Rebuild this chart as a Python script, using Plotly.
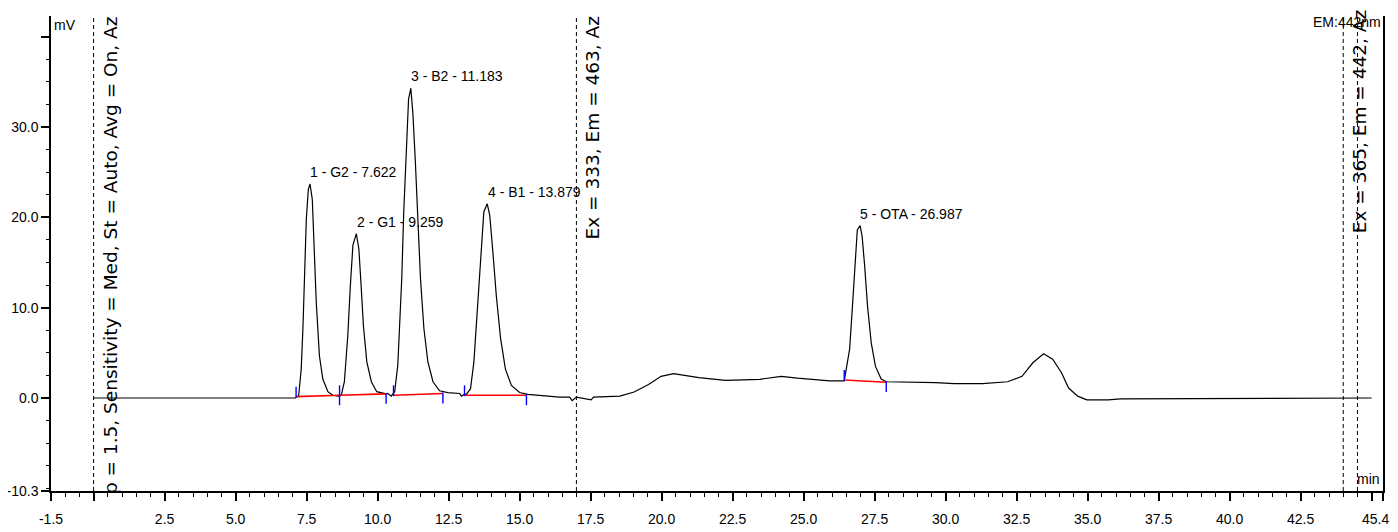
import plotly.graph_objects as go

# ---- chromatogram signal (min, mV) ----
time_min = [0.00, 7.10, 7.22, 7.31, 7.37, 7.43, 7.49, 7.56, 7.62, 7.70, 7.75, 7.84, 7.95, 8.07, 8.25, 8.42, 8.63,
            8.72, 8.83, 8.95, 9.04, 9.13, 9.25, 9.34, 9.42, 9.50, 9.62, 9.78, 9.97, 10.30,
            10.36, 10.48, 10.60, 10.71, 10.77, 10.85, 10.92, 11.01, 11.09, 11.17, 11.24, 11.33, 11.42, 11.51,
            11.63, 11.77, 11.95, 12.18, 12.47, 12.89, 12.95, 13.05,
            13.12, 13.27, 13.39, 13.51, 13.63, 13.74, 13.86, 13.95, 14.06, 14.18, 14.33, 14.50, 14.71, 15.00,
            15.29, 16.00, 16.40, 16.76, 16.85, 17.00, 17.52, 17.60, 18.53, 19.03, 19.54, 19.98, 20.42, 21.31,
            22.25, 23.46, 24.21, 24.78, 25.92, 26.43, 26.62, 26.72, 26.81, 26.89, 26.99, 27.06, 27.15, 27.25,
            27.38, 27.53, 27.73, 27.91, 29.65, 30.30, 31.30, 32.18, 32.69, 33.07, 33.45, 33.77, 34.08, 34.33,
            34.65, 34.97, 35.72, 36.16, 45.00]
signal_mv = [0.00, 0.00, 0.25, 3.2, 7.7, 14.3, 19.8, 23.1, 23.7, 22.0, 18.0, 10.6, 4.7, 2.1, 0.7, 0.3, 0.2,
             0.3, 1.8, 6.9, 12.4, 16.9, 18.2, 16.5, 12.4, 8.0, 4.0, 1.8, 0.7, 0.45,
             0.5, 0.2, 0.7, 3.6, 7.7, 13.2, 20.6, 27.9, 33.1, 34.3, 31.6, 26.1, 18.7, 13.2,
             7.7, 4.0, 1.8, 0.8, 0.6, 0.5, 0.2, 0.4,
             0.4, 1.0, 4.0, 9.5, 16.1, 20.6, 21.5, 20.2, 16.1, 11.3, 6.6, 3.2, 1.4, 0.6,
             0.4, 0.2, 0.1, 0.1, -0.3, 0.1, -0.2, 0.1, 0.2, 0.66, 1.5, 2.4, 2.7, 2.25,
             1.95, 2.07, 2.4, 2.2, 1.9, 1.9, 5.4, 10.2, 15.3, 18.6, 19.1, 17.9, 14.6, 10.2,
             6.1, 3.5, 2.1, 1.8, 1.7, 1.6, 1.6, 1.8, 2.4, 3.9, 4.9, 4.3, 2.8, 1.1,
             0.2, -0.2, -0.2, -0.1, 0.0]

# ---- peak table ----
peak_no = [1, 2, 3, 4, 5]
peak_name = ["G2", "G1", "B2", "B1", "OTA"]
peak_rt = [7.622, 9.259, 11.183, 13.879, 26.987]
peak_height = [23.7, 18.2, 34.3, 21.5, 19.1]
peak_start_t = [7.13, 8.66, 10.56, 13.06, 26.43]
peak_start_v = [0.15, 0.30, 0.30, 0.30, 2.00]
peak_end_t = [8.66, 10.30, 12.30, 15.24, 27.91]
peak_end_v = [0.30, 0.45, 0.50, 0.30, 1.75]

# ---- event lines and their texts ----
event_times = [0.0, 17.0, 44.0, 44.5]
event_texts = ["p = 1.5, Sensitivity = Med, St = Auto, Avg = On, Az",
               "Ex = 333, Em = 463, Az",
               "Ex = 365, Em = 442, Az"]

# ---- axes ----
x_range = [-1.5, 45.4]
y_range = [-10.3, 42.3]
x_tickvals = [-1.5, 0.0, 2.5, 5.0, 7.5, 10.0, 12.5, 15.0, 17.5, 20.0, 22.5, 25.0, 27.5, 30.0, 32.5, 35.0,
              37.5, 40.0, 42.5, 45.0, 45.4]
x_ticktext = ["-1.5", "", "2.5", "5.0", "7.5", "10.0", "12.5", "15.0", "17.5", "20.0", "22.5", "25.0", "27.5",
              "30.0", "32.5", "35.0", "37.5", "40.0", "42.5", "", ""]
x_end_label = "45.4"
y_tickvals = [-10.3, 0.0, 10.0, 20.0, 30.0, 40.0]
y_ticktext = ["-10.3", "0.0", "10.0", "20.0", "30.0", ""]

fig = go.Figure()

# signal
fig.add_trace(go.Scatter(x=time_min, y=signal_mv, mode="lines",
                         line=dict(color="black", width=1.2), hoverinfo="skip", showlegend=False))

# integration baselines (red)
bx, by = [], []
for s, sv, e, ev in zip(peak_start_t, peak_start_v, peak_end_t, peak_end_v):
    bx += [s, e, None]
    by += [sv, ev, None]
fig.add_trace(go.Scatter(x=bx, y=by, mode="lines", line=dict(color="#ff0000", width=1.6),
                         hoverinfo="skip", showlegend=False))

# peak delimiters (blue): start marks up, end marks down
mark = 1.1
mx, my = [], []
for s, sv in zip(peak_start_t, peak_start_v):
    mx += [s, s, None]
    my += [sv - 0.1, sv + mark, None]
for e, ev in zip(peak_end_t, peak_end_v):
    mx += [e, e, None]
    my += [ev + 0.1, ev - mark, None]
fig.add_trace(go.Scatter(x=mx, y=my, mode="lines", line=dict(color="#0000ff", width=1.4),
                         hoverinfo="skip", showlegend=False))

# dashed event lines
for t in event_times:
    fig.add_shape(type="line", xref="x", yref="paper", x0=t, x1=t, y0=0, y1=1,
                  line=dict(color="black", width=1, dash="4px,3px"))

lab_font = dict(family="Liberation Sans, Arial", size=14, color="black")
vert_font = dict(family="DejaVu Sans", size=18.5, color="black")

# peak labels
for n, nm, rt, h in zip(peak_no, peak_name, peak_rt, peak_height):
    fig.add_annotation(x=rt, y=h, xref="x", yref="y", text=f"{n} - {nm} - {rt:.3f}",
                       showarrow=False, xanchor="left", yanchor="bottom", xshift=-2, yshift=2,
                       font=lab_font)

# vertical event texts
fig.add_annotation(x=event_times[0], y=1, xref="x", yref="paper", text=event_texts[0], textangle=-90,
                   showarrow=False, xanchor="left", yanchor="top", xshift=4, yshift=2, font=vert_font)
fig.add_annotation(x=event_times[1], y=1, xref="x", yref="paper", text=event_texts[1], textangle=-90,
                   showarrow=False, xanchor="left", yanchor="top", xshift=4, yshift=2, font=vert_font)
fig.add_annotation(x=event_times[2], y=1, xref="x", yref="paper", text=event_texts[2], textangle=-90,
                   showarrow=False, xanchor="left", yanchor="top", xshift=4, yshift=8, font=vert_font)

# unit labels and axis end label
fig.add_annotation(x=0, y=1, xref="paper", yref="paper", text="mV", showarrow=False,
                   xanchor="left", yanchor="top", xshift=1, yshift=1, font=lab_font)
fig.add_annotation(x=1, y=0, xref="paper", yref="paper", text="min", showarrow=False,
                   xanchor="right", yanchor="bottom", xshift=-1, yshift=2, font=lab_font)
fig.add_annotation(x=1, y=1, xref="paper", yref="paper", text="EM:442nm", showarrow=False,
                   xanchor="right", yanchor="top", xshift=0, yshift=4, font=lab_font)
fig.add_annotation(x=1, y=0, xref="paper", yref="paper", text=x_end_label, showarrow=False,
                   xanchor="right", yanchor="middle", xshift=8, yshift=-28, font=lab_font)

# the page body adds an 8 px offset, so the figure is sized to fit the window
fig.update_layout(
    width=1390, height=524,
    margin=dict(l=43, r=15, t=8, b=41, autoexpand=False),
    paper_bgcolor="white", plot_bgcolor="white",
    showlegend=False,
    xaxis=dict(range=x_range, tickmode="array", tickvals=x_tickvals, ticktext=x_ticktext,
               automargin=False,
               showgrid=False, zeroline=False, showline=True, linecolor="black", linewidth=2,
               ticks="outside", ticklen=8, tickwidth=1.5, tickcolor="black", ticklabelstandoff=6,
               tickfont=lab_font,
               minor=dict(tickmode="linear", tick0=0, dtick=0.5, ticks="outside", ticklen=4,
                          tickwidth=1, tickcolor="black", showgrid=False)),
    yaxis=dict(range=y_range, tickmode="array", tickvals=y_tickvals, ticktext=y_ticktext,
               automargin=False,
               showgrid=False, zeroline=False, showline=True, linecolor="black", linewidth=1.5,
               mirror=True, ticks="outside", ticklen=8, tickwidth=1.5, tickcolor="black",
               tickfont=lab_font,
               minor=dict(tickmode="linear", tick0=0, dtick=2.5, ticks="outside", ticklen=3,
                          tickwidth=1, tickcolor="black", showgrid=False)),
)

fig.write_html("out.html")
